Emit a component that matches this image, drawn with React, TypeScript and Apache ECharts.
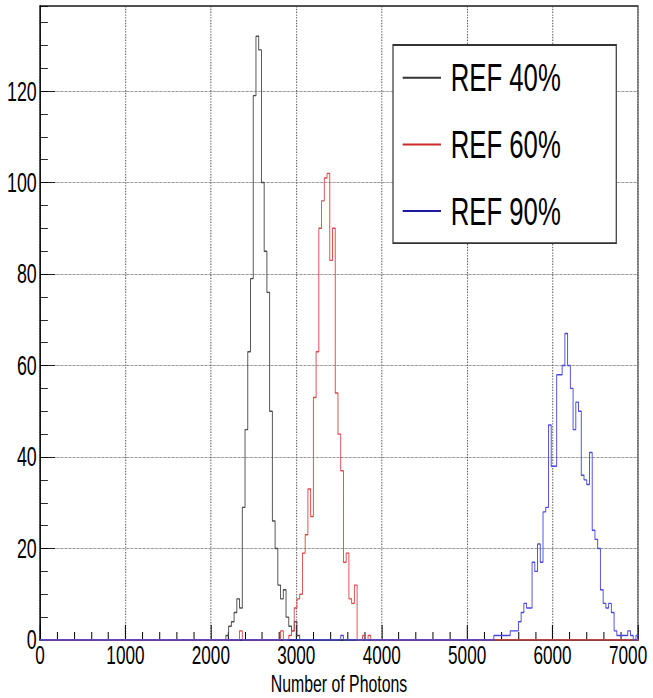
import React, { useEffect, useRef } from "react";
import * as echarts from "echarts";

// ---- data (histograms: 32-photon bins starting at 0) ----
const BIN_WIDTH = 32;
const N_BINS = 219;
const X_MAX = 7000;
const X_INTERVAL = 1000;
const Y_MAX = 138.6;
const Y_INTERVAL = 20;
const Y_MINOR_INTERVAL = 5;
const X_TITLE = "Number of Photons";
const SERIES_NAMES = ["REF 40%", "REF 60%", "REF 90%"];

const REF40_FIRST_BIN = 68;
const REF40_COUNTS = [1, 3, 4, 6, 9, 7, 29, 46, 63, 79, 119, 132, 129, 100, 85, 76, 50, 26, 20, 12, 9, 11, 5, 3, 2, 4, 1];

const REF60_FIRST_BIN = 73;
const REF60_COUNTS = [2, 0, 0, 0, 0, 0, 0, 0, 0, 0, 0, 0, 0, 0, 0, 2, 0, 0, 1, 2, 7, 9, 10, 19, 23, 33, 27, 53, 63, 90, 96, 101, 102, 83, 90, 54, 45, 37, 17, 19, 9, 8, 12, 0, 0, 1, 0, 1];

const REF90_STRAY_BIN = 110;
const REF90_STRAY_COUNTS = [1];
const REF90_FIRST_BIN = 166;
const REF90_COUNTS = [1, 1, 1, 1, 1, 1, 2, 2, 2, 4, 6, 8, 7, 7, 17, 15, 21, 17, 28, 29, 47, 38, 38, 58, 58, 60, 67, 60, 55, 46, 52, 50, 36, 35, 34, 41, 24, 22, 20, 11, 8, 7, 8, 6, 2, 1, 1, 1, 1, 2, 1, 0, 1];

const LINE_COLORS = ["#4a4a4a", "#e04848", "#4848e0"];
const LEGEND_COLORS = ["#333333", "#cc2a2a", "#1a1aa0"];

// ---- layout ----
const SX = 0.66; // horizontal squeeze of the original picture
const W_INNER = Math.round(653 / SX);
const FONT = "'Liberation Sans', Arial, Helvetica, sans-serif";
const TICK_FONT = 26;
const Y_TICK_FONT = 27;
const LEGEND_FONT = 39;
const TITLE_FONT = 24;

type Seg = { firstBin: number; counts: number[] };

function toSteps(segs: Seg[]) {
  const counts = new Array(N_BINS).fill(0);
  segs.forEach((s) => s.counts.forEach((c, k) => (counts[s.firstBin + k] = c)));
  const pts = counts.map((c, i) => [i * BIN_WIDTH, c]);
  pts.push([N_BINS * BIN_WIDTH, counts[N_BINS - 1]]);
  return pts;
}

export default function App() {
  const ref = useRef<HTMLDivElement>(null);
  useEffect(() => {
    const chart = echarts.init(ref.current!, undefined, { renderer: "svg" });
    const datasets = [
      toSteps([{ firstBin: REF40_FIRST_BIN, counts: REF40_COUNTS }]),
      toSteps([{ firstBin: REF60_FIRST_BIN, counts: REF60_COUNTS }]),
      toSteps([
        { firstBin: REF90_STRAY_BIN, counts: REF90_STRAY_COUNTS },
        { firstBin: REF90_FIRST_BIN, counts: REF90_COUNTS },
      ]),
    ];
    const left = 40 / SX;
    const right = W_INNER - 638 / SX;
    chart.setOption({
      animation: false,
      backgroundColor: "#ffffff",
      grid: {
        left,
        right,
        top: 6,
        bottom: 58,
        outerBoundsMode: "none",
        containLabel: false,
        show: true,
        borderColor: "#555",
        borderWidth: 1.8,
        backgroundColor: "transparent",
      },
      legend: {
        orient: "vertical",
        left: 393 / SX,
        top: 45,
        icon: "rect",
        itemWidth: 58,
        itemHeight: 2,
        itemGap: 27.7,
        padding: [13.2, 84, 12.5, 14.7],
        borderColor: "#333",
        borderWidth: 1.8,
        backgroundColor: "#fff",
        selectedMode: false,
        textStyle: { fontSize: LEGEND_FONT, lineHeight: LEGEND_FONT, color: "#000", fontFamily: FONT, padding: [0, 0, 0, 9.7] },
        data: SERIES_NAMES.map((n, i) => ({ name: n, itemStyle: { color: LEGEND_COLORS[i] } })),
      },
      xAxis: {
        type: "value",
        min: 0,
        max: X_MAX,
        interval: X_INTERVAL,
        name: X_TITLE,
        nameLocation: "middle",
        nameGap: 32.5,
        nameMoveOverlap: false,
        nameTextStyle: { fontSize: TITLE_FONT, lineHeight: 22, color: "#000", fontFamily: FONT, verticalAlign: "top" },
        axisLine: { show: true, lineStyle: { color: "#000", width: 1.5 } },
        axisTick: { show: true, inside: true, length: 15, lineStyle: { color: "#000", width: 1.5 } },
        minorTick: { show: true, splitNumber: 5, length: 8, lineStyle: { color: "#000", width: 1.5 } },
        axisLabel: {
          fontSize: TICK_FONT,
          lineHeight: 22,
          color: "#000",
          fontFamily: FONT,
          margin: 4,
          formatter: (v: number) => (v === X_MAX ? `{last|${v}}` : String(v)),
          rich: { last: { fontSize: TICK_FONT, lineHeight: 22, color: "#000", fontFamily: FONT, padding: [0, 30, 0, 0] } },
        },
        splitLine: { show: true, lineStyle: { color: "#444", type: "dotted", width: 1.4 } },
      },
      yAxis: [
        {
          type: "value",
          min: 0,
          max: Y_MAX,
          interval: Y_INTERVAL,
          axisLine: { show: true, lineStyle: { color: "#000", width: 1.8 } },
          axisTick: { show: true, inside: true, length: 23, lineStyle: { color: "#000", width: 1 } },
          axisLabel: { fontSize: Y_TICK_FONT, color: "#000", fontFamily: FONT, margin: 5, showMaxLabel: false },
          splitLine: { show: true, lineStyle: { color: "#444", type: "dotted", width: 1 } },
        },
        {
          type: "value",
          position: "left",
          min: 0,
          max: Y_MAX,
          interval: Y_MINOR_INTERVAL,
          axisLine: { show: false },
          axisTick: { show: true, inside: true, length: 12, lineStyle: { color: "#000", width: 1 } },
          axisLabel: { show: false },
          splitLine: { show: false },
        },
      ],
      series: SERIES_NAMES.map((n, i) => ({
        name: n,
        type: "line",
        step: "end",
        yAxisIndex: 0,
        showSymbol: false,
        symbol: "none",
        clip: true,
        z: 2 + i,
        lineStyle: { color: LINE_COLORS[i], width: 1.4 },
        itemStyle: { color: LINE_COLORS[i] },
        data: datasets[i],
      })),
    });
    return () => chart.dispose();
  }, []);
  return (
    <div style={{ position: "absolute", left: 0, top: 0, width: 653, height: 698, overflow: "hidden", background: "#fff" }}>
      <div ref={ref} style={{ width: W_INNER, height: 698, transform: `scaleX(${SX})`, transformOrigin: "0 0" }} />
    </div>
  );
}
